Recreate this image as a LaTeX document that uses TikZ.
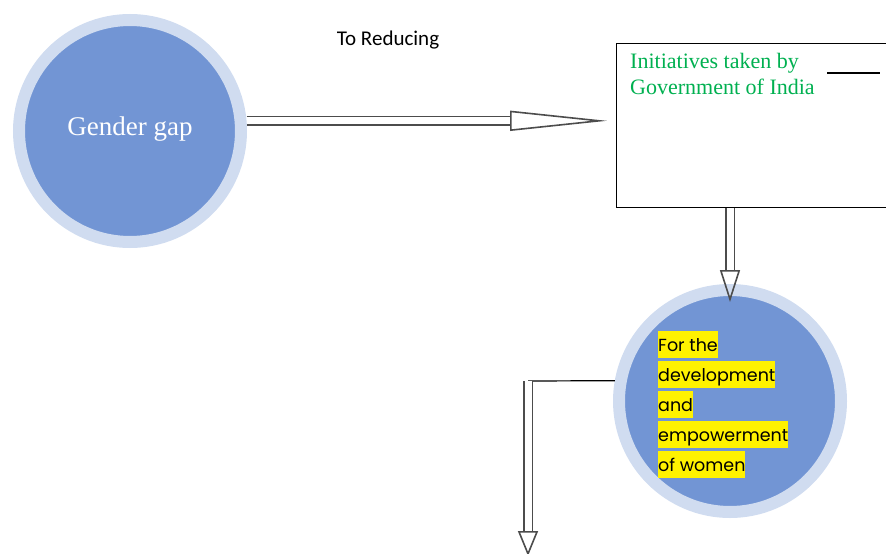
\documentclass[tikz,border=0pt]{standalone}
\usepackage{fontspec}
\setmainfont{Liberation Serif}
\newfontfamily\labelfont{Carlito}
\newfontfamily\circlefont{Poppins}
\usetikzlibrary{arrows.meta,positioning,calc}

\definecolor{ringblue}{RGB}{208,220,240}
\definecolor{discblue}{RGB}{114,149,212}
\definecolor{initgreen}{RGB}{0,176,80}

\newcommand{\hlline}[1]{{\setlength{\fboxsep}{0pt}\colorbox{yellow}{\rule[-7pt]{0pt}{27pt}#1}}}

\tikzset{
    disc/.style={circle, draw=ringblue, line width=12pt, fill=discblue,
        minimum size=222pt, inner sep=0pt},
    blockarrow/.style={draw=black!70, line width=1.6pt, double=white,
        double distance=7pt, -{Triangle[open, length=#1, width=20pt]}},
    blockarrow/.default=30pt,
}

\begin{document}
\begin{tikzpicture}[x=1pt, y=-1pt]
        \useasboundingbox (0,0) rectangle (886,554);

        \node [disc, text=white, font=\fontsize{27}{30}\selectfont,
            text height=15pt, text depth=7pt] (gap) at (130,131) {Gender gap};
        \node [font=\labelfont\fontsize{21}{25}\selectfont] (reducing) at (388,40) {To Reducing};

        \node [draw, line width=1.2pt, minimum width=290pt, minimum height=164pt,
            anchor=north west] (init) at (616,43) {};
        \node [anchor=north west, inner sep=0pt, align=left, text=initgreen,
            font=\fontsize{22}{26}\selectfont] (inittext) at (630,53)
            {Initiatives taken by\\Government of India};
        \coordinate (dashstart) at (827,73);
        \coordinate (dashend) at (880,73);
        \draw [line width=1.2pt] (dashstart) -- (dashend);

        \node [disc] (women) at (730,401) {};
        \node [anchor=north west, inner sep=0pt, align=left,
            font=\circlefont\fontsize{17.5}{30}\selectfont] (womentext) at (658,331)
            {\hlline{For the}\\\hlline{development}\\\hlline{and}\\\hlline{empowerment}\\\hlline{of women}};

        \draw [blockarrow=97pt] (gap.5) -- (gap.5 -| init.west) [shorten >=9pt];
        \draw [blockarrow=32pt] (women.north |- init.south) -- ([yshift=-18pt]women.north);

        \coordinate (bend) at (528,381);
        \coordinate (bottom) at (528,556);
        \draw [line width=1.2pt] (women.170) -- (bend);
        \draw [blockarrow=25pt] (bend) -- (bottom);
    \end{tikzpicture}
\end{document}
